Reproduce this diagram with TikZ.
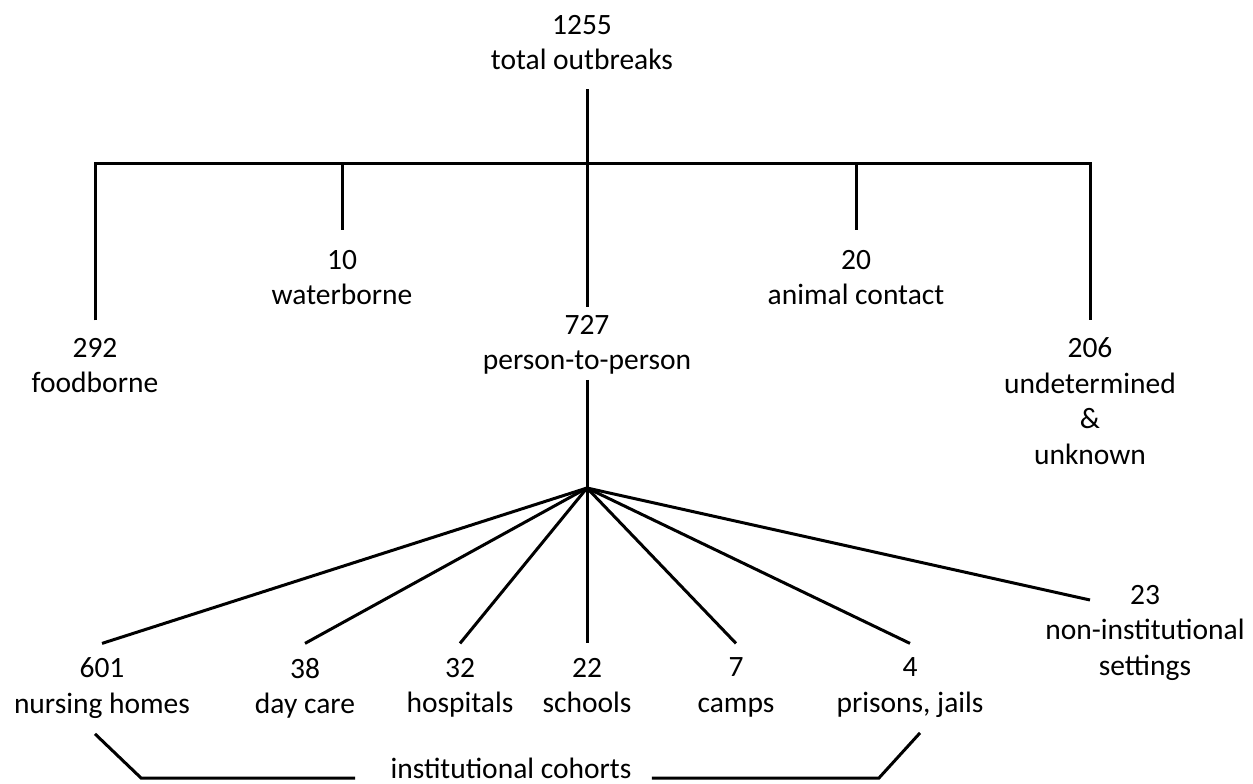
\documentclass[tikz,border=0pt]{standalone}
\usepackage{fontspec}
\setmainfont{Carlito}

\tikzset{lbl/.style={anchor=north,inner sep=0pt,align=center,font=\fontsize{29.5}{35.5}\selectfont}}

\begin{document}
\begin{tikzpicture}[x=1pt,y=1pt,yscale=-1,line width=3pt]
\useasboundingbox (0,0) rectangle (1253,784);

% Text Node
\node [lbl] (total) at (582,13.4) {1255\\total outbreaks};
% Text Node
\node [lbl] (food) at (95,336.4) {292\\foodborne};
% Text Node
\node [lbl] (water) at (342,248.4) {10\\waterborne};
% Text Node
\node [lbl] (p2p) at (587,313.4) {727\\person-to-person};
% Text Node
\node [lbl] (animal) at (856,248.4) {20\\animal contact};
% Text Node
\node [lbl] (unk) at (1090,336.4) {206\\undetermined\\\&\\unknown};
% Text Node
\node [lbl] (nh) at (102,656.4) {601\\nursing homes};
% Text Node
\node [lbl] (dc) at (305,656.4) {38\\day care};
% Text Node
\node [lbl] (hosp) at (460,656.4) {32\\hospitals};
% Text Node
\node [lbl] (school) at (587,656.4) {22\\schools};
% Text Node
\node [lbl] (camp) at (736,656.4) {7\\camps};
% Text Node
\node [lbl] (prison) at (910,656.4) {4\\prisons, jails};
% Text Node
\node [lbl] (nonin) at (1145,583.4) {23\\non-institutional\\settings};
% Text Node
\node [lbl,anchor=base] (coh) at (511,778) {institutional cohorts};

\coordinate (hub) at (587,163);
\coordinate (fan) at (587,488);
\coordinate (ninend) at (1090,600);

%Straight Lines
\draw ([yshift=18pt]total.south -| hub) -- ([yshift=-6pt]p2p.north);
%Straight Lines
\draw ([yshift=-16pt]food.north) |- (hub) -| ([yshift=-16pt]unk.north);
%Straight Lines
\draw (water.north |- hub) -- ([yshift=-18pt]water.north);
%Straight Lines
\draw (animal.north |- hub) -- ([yshift=-18pt]animal.north);
%Straight Lines
\draw ([yshift=4pt]p2p.south) -- (fan);
%Straight Lines
\foreach \n in {nh,dc,hosp,school,camp,prison}
  \draw (fan) -- ([yshift=-13pt]\n.north);
%Straight Lines
\draw (fan) -- (ninend);
%Straight Lines
\draw ([xshift=-34pt]coh.base west) -- ++(-214,0) -- ([xshift=-7pt,yshift=14pt]nh.south);
%Straight Lines
\draw ([xshift=19pt]coh.base east) -- ++(227,0) -- ([xshift=10pt,yshift=14pt]prison.south);

\end{tikzpicture}
\end{document}
